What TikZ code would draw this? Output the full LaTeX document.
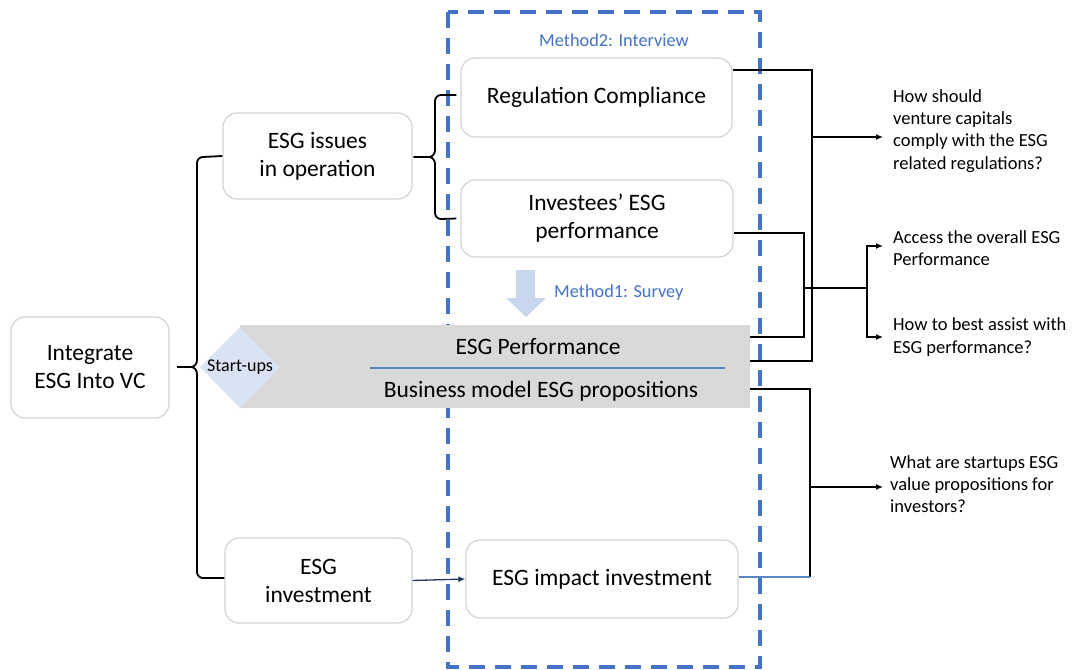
\documentclass[tikz,border=0pt]{standalone}
\usepackage{fontspec}
\setmainfont{Carlito}
\usetikzlibrary{arrows.meta,calc}
\definecolor{boxgray}{HTML}{D3D3D3}
\definecolor{bandgray}{HTML}{D9D9D9}
\definecolor{diamondblue}{HTML}{DAE3F3}
\definecolor{arrowblue}{HTML}{C8D6EE}
\definecolor{dashblue}{HTML}{4472C4}
\definecolor{textblue}{HTML}{4472C4}
\definecolor{sepblue}{HTML}{5A85C0}
\definecolor{navy}{HTML}{1F3864}
\begin{document}
\begin{tikzpicture}[x=1pt,y=-1pt,
  box/.style={draw=boxgray, line width=1.2pt, rounded corners=14pt, fill=white,
    align=center, inner sep=0pt, font=\fontsize{23.5}{28}\selectfont},
  qtext/.style={anchor=west, align=left, inner sep=0pt, font=\fontsize{18.5}{22.3}\selectfont},
  conn/.style={line width=1.3pt, black},
  bconn/.style={line width=1.3pt, sepblue},
  arr/.style={conn, -{Latex[length=7pt,width=6pt]}},
  brace/.style={line width=1.8pt, black},
  mlabel/.style={text=textblue, inner sep=0pt, font=\fontsize{18.3}{22}\selectfont},
  bandtext/.style={inner sep=0pt, font=\fontsize{23.5}{28}\selectfont}]
\useasboundingbox (0,0) rectangle (1073,669);
\fill[white] (0,0) rectangle (1073,669);

% dashed frame (behind the band)
\draw[dashblue, line width=4pt, dash pattern=on 16pt off 10pt] (448,12) rectangle (760,667);

% gray band and diamond
\node[fill=bandgray, minimum width=510pt, minimum height=83pt, inner sep=0pt] (band) at (495,366.5) {};
\fill[diamondblue] (200,367) -- (240,327) -- (280,367) -- (240,408) -- cycle;
\node[inner sep=0pt, font=\fontsize{18}{22}\selectfont] (su) at (240,367) {Start-ups};
\node[bandtext] (perf) at (538,347) {ESG Performance};
\node[bandtext] (prop) at (541,391) {Business model ESG propositions};
\coordinate (s1) at (370,368);
\coordinate (s2) at (725,368);
\draw[line width=1.1pt, sepblue] (s1) -- (s2);

% boxes
\node[box, minimum width=158pt, minimum height=101pt] (int) at (90,367.5) {Integrate\\ESG Into VC};
\node[box, minimum width=189pt, minimum height=86pt] (issues) at (317.5,156) {ESG issues\\in operation};
\node[box, minimum width=271pt, minimum height=79pt] (reg) at (596.5,97.5) {Regulation Compliance};
\node[box, minimum width=272pt, minimum height=77pt] (inv) at (597,218.5) {Investees’ ESG\\performance};
\node[box, minimum width=187pt, minimum height=85pt] (esginv) at (318.5,580.5) {ESG\\investment};
\node[box, minimum width=272pt, minimum height=78pt] (impact) at (602,579) {ESG impact investment};

% survey arrow
\fill[arrowblue] (516,270) -- (535,270) -- (535,298) -- (546,298) -- (526,317) -- (506,298) -- (516,298) -- cycle;
\node[mlabel, anchor=west] (m1) at (554,293) {Method1: Survey};
\node[mlabel] (m2) at (614,40) {Method2: Interview};

% big left brace
\coordinate (bt) at (177,367);
\draw[brace] (issues.west) -- (203,157) to[out=180,in=90] (197,163) -- (197,360)
  to[out=-90,in=0] (191,367) -- (bt);
\draw[brace] (bt) -- (191,367) to[out=0,in=90] (197,374) -- (197,572)
  to[out=-90,in=180] (203,578) -- ([yshift=2.5pt]esginv.west);

% small brace
\draw[brace] ([xshift=-4pt,yshift=2.5pt]reg.west) -- (441,95) to[out=180,in=90] (435,101) -- (435,150)
  to[out=-90,in=0] (429,157) -- ([xshift=1pt,yshift=-1pt]issues.east);
\draw[brace] ([xshift=1pt,yshift=-1pt]issues.east) -- (429,157) to[out=0,in=90] (435,164) -- (435,213)
  to[out=-90,in=180] (441,219) -- ([xshift=-4pt]inv.west);

% investment arrow
\draw[line width=1.3pt, navy, -{Latex[length=7pt,width=6pt]}] (esginv.east) -- (impact.west);

% right questions
\node[qtext] (q1) at (893,131) {How should\\venture capitals\\comply with the ESG\\related regulations?};
\node[qtext] (q2) at (893,248) {Access the overall ESG\\Performance};
\node[qtext] (q3) at (893,337) {How to best assist with\\ESG performance?};
\node[qtext] (q4) at (890,484) {What are startups ESG\\value propositions for\\investors?};

% connectors: regulation
\coordinate (j1) at (812,137);
\draw[conn] ([yshift=27.5pt]reg.east) -| (j1) |- ([yshift=5.5pt]band.east);
\draw[arr] (j1) -- ([xshift=-10pt]q1.west |- j1);

% connectors: investees
\coordinate (j2) at (804,288);
\coordinate (j3) at (867,288);
\coordinate (a2) at (883,246);
\coordinate (a3) at (883,337);
\draw[conn] ([yshift=-14.5pt]inv.east) -| (j2) |- ([yshift=29.5pt]band.east);
\draw[conn] (j2) -- (j3);
\draw[arr] (j3) |- (a2);
\draw[arr] (j3) |- (a3);

% connectors: propositions
\coordinate (j4) at (810,487);
\coordinate (c5) at (810,577);
\draw[conn] ([yshift=-22.5pt]band.east) -| (j4);
\draw[conn] (j4) -- (c5);
\draw[bconn] (c5) -- ([yshift=2pt]impact.east);
\draw[arr] (j4) -- ([xshift=-7pt]q4.west |- j4);
\end{tikzpicture}
\end{document}
